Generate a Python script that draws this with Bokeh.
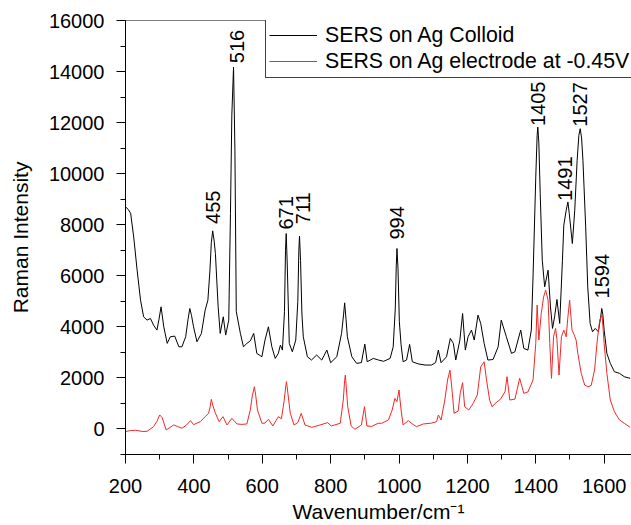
import numpy as np
from bokeh.plotting import figure
from bokeh.models import Range1d, SingleIntervalTicker, Legend, LegendItem, Span, ColumnDataSource
from bokeh.embed import file_html
from bokeh.resources import INLINE
from bokeh.core.properties import value

# ---------------- data ----------------
series_names = ["SERS on Ag Colloid", "SERS on Ag electrode at -0.45V"]

colloid_wn = [200, 208, 215, 224, 234, 244, 253, 263, 273, 282, 292, 298, 304, 312, 322, 331, 344, 356, 365, 376,
              383, 388, 393, 399, 409, 422, 433, 441, 447, 451, 455, 459, 463, 471, 477, 486, 493, 502, 507, 511,
              516, 520, 524, 536, 545, 555, 565, 575, 584, 599, 608, 618, 628, 638, 647, 653, 659, 665, 668, 670,
              673, 679, 688, 698, 704, 707, 709, 712, 716, 720, 732, 744, 759, 774, 789, 800, 818, 832, 838, 841,
              845, 849, 862, 876, 890, 900, 907, 925, 940, 955, 974, 983, 989, 992, 994, 997, 1001, 1006, 1012,
              1022, 1031, 1039, 1056, 1076, 1095, 1107, 1115, 1123, 1139, 1150, 1159, 1166, 1178, 1186, 1194, 1202,
              1212, 1220, 1231, 1239, 1249, 1260, 1275, 1290, 1299, 1305, 1314, 1329, 1339, 1348, 1356, 1365, 1377,
              1387, 1392, 1400, 1404, 1406, 1409, 1413, 1419, 1426, 1436, 1443, 1449, 1455, 1462, 1470, 1478, 1482,
              1489, 1494, 1498, 1507, 1514, 1521, 1526, 1530, 1534, 1538, 1546, 1552, 1559, 1566, 1574, 1583, 1590,
              1593, 1596, 1600, 1608, 1618, 1630, 1645, 1659, 1676]
colloid_int = [8700, 8600, 8450, 7520, 6220, 5046, 4393, 4264, 4330, 4068, 3873, 4300, 4784, 4002, 3352, 3611, 3638,
               3220, 3220, 3611, 4300, 4720, 4450, 4002, 3416, 3743, 4655, 5046, 6220, 7300, 7759, 7400, 6872, 4784,
               3743, 4393, 3677, 4264, 8437, 12300, 14173, 11000, 4600, 3743, 3220, 3352, 3450, 3743, 2960, 2830,
               3482, 4002, 3220, 2764, 2960, 3286, 3090, 4600, 7000, 7656, 6500, 3352, 3024, 3482, 5000, 7000, 7550,
               6600, 4500, 3611, 2830, 2700, 2895, 2700, 3090, 2594, 2830, 3743, 4500, 4941, 4300, 3611, 2830, 2569,
               2600, 3325, 2633, 2764, 2700, 2650, 2764, 3220, 4700, 6400, 7069, 6300, 4200, 3300, 2633, 2700, 3312,
               2633, 2550, 2504, 2504, 2600, 3090, 2594, 2830, 3548, 3352, 2700, 3482, 4524, 3090, 3611, 3873, 3482,
               4460, 4133, 3352, 2700, 2720, 3220, 4264, 4002, 3611, 2960, 3026, 3482, 3873, 3156, 3090, 3873, 5958,
               9870, 11500, 11826, 11200, 9220, 6611, 5567, 6220, 4784, 3939, 4393, 5073, 4134, 6611, 7980, 8567,
               8893, 8437, 7264, 8567, 10523, 11500, 11762, 11400, 10523, 7915, 5567, 4134, 3808, 3939, 3808, 4400,
               4720, 4500, 3873, 2960, 2569, 2243, 2178, 2047, 1982]

electrode_wn = [200, 215, 230, 250, 263, 282, 292, 300, 307, 319, 330, 341, 352, 365, 378, 390, 399, 419, 433, 443,
                448, 451, 456, 463, 474, 485, 497, 511, 526, 540, 555, 565, 571, 577, 581, 586, 599, 608, 618, 631,
                647, 656, 664, 669, 671, 675, 682, 693, 704, 714, 725, 745, 769, 791, 802, 828, 837, 841, 843, 846,
                850, 860, 871, 890, 899, 906, 920, 939, 949, 969, 980, 988, 994, 1000, 1006, 1012, 1027, 1041, 1051,
                1071, 1095, 1110, 1115, 1123, 1134, 1142, 1149, 1156, 1161, 1173, 1179, 1186, 1192, 1204, 1217,
                1229, 1239, 1249, 1256, 1265, 1272, 1284, 1297, 1310, 1316, 1324, 1339, 1353, 1365, 1377, 1392,
                1400, 1404, 1409, 1416, 1423, 1429, 1436, 1441, 1446, 1452, 1458, 1462, 1468, 1475, 1482, 1489,
                1494, 1499, 1506, 1512, 1518, 1523, 1533, 1543, 1552, 1562, 1572, 1580, 1587, 1594, 1600, 1608,
                1618, 1630, 1645, 1659, 1676]
electrode_int = [-100, -60, -50, -100, -90, 90, 300, 548, 450, -39, 60, 156, 100, 26, 150, 326, 170, 287, 483, 613,
                 900, 1160, 900, 613, 287, 483, 156, 417, 196, 180, 196, 743, 1300, 1655, 1300, 743, 222, 230, 378,
                 117, 483, 400, 1100, 1700, 1851, 1400, 613, 156, 250, 613, 156, 65, 156, 247, 117, 222, 1134, 1900,
                 2112, 1600, 874, 117, -13, 156, 874, 117, 100, 222, 222, 352, 743, 1200, 1070, 1526, 743, 156, 326,
                 180, 91, 196, 230, 287, 548, 352, 1134, 1917, 2308, 1396, 613, 700, 1396, 1813, 874, 743, 1004, 1330,
                 2437, 2633, 1917, 1134, 874, 1030, 1170, 1460, 2047, 1134, 1170, 1983, 1396, 1450, 1917, 3352, 4851,
                 3482, 4524, 5176, 5438, 5046, 3352, 1983, 3611, 3939, 3500, 2112, 3611, 3873, 3611, 4393, 5046, 3873,
                 3700, 3482, 2960, 2178, 1721, 1655, 1700, 2308, 3482, 4264, 4460, 3352, 2178, 1134, 678, 352, 222, 65]

peak_wn = [455, 516, 671, 711, 994, 1405, 1491, 1527, 1594]
peak_labels = [str(w) for w in peak_wn]
# label nudges in screen pixels (layout only)
label_dx = [0, 3, -1, 3, 0, 1, -2, 1, 0]
label_dy = [-7, -4, -4, -12, -9, -1, -1, -2, -10]

FONT = "Liberation Sans"

p = figure(width=631, height=525, output_backend="svg", toolbar_location=None,
           x_range=Range1d(200, 1680), y_range=Range1d(-1000, 16000),
           min_border_left=125, min_border_right=0, min_border_top=20, min_border_bottom=71)
p.outline_line_color = None
p.grid.visible = False
p.background_fill_color = "white"
p.border_fill_color = "white"

r1 = p.line(colloid_wn, colloid_int, line_color="black", line_width=1)
r2 = p.line(electrode_wn, electrode_int, line_color="#f02828", line_width=1)

# peak labels, placed just above the local maximum of the colloid spectrum
lab_y = []
for w in peak_wn:
    vals = [v for x, v in zip(colloid_wn, colloid_int) if abs(x - w) <= 8]
    lab_y.append(max(vals))
src = ColumnDataSource(dict(x=peak_wn, y=lab_y, t=peak_labels, dx=label_dx, dy=label_dy))
p.text(x="x", y="y", text="t", source=src, angle=np.pi / 2, text_align="left", text_baseline="middle",
       x_offset="dx", y_offset="dy", text_font=value(FONT), text_font_size="20px", text_color="black")

# top frame line
p.add_layout(Span(location=16000, dimension="width", line_color="black", line_width=1))

legend = Legend(items=[LegendItem(label=series_names[0], renderers=[r1]),
                       LegendItem(label=series_names[1], renderers=[r2])],
                location=(140, 376), orientation="vertical",
                label_text_font=FONT, label_text_font_size="21.3px", label_text_color="black",
                label_height=26, glyph_height=26, glyph_width=48, label_standoff=8,
                spacing=0, padding=3, margin=0,
                border_line_color="black", border_line_width=1, border_line_alpha=0.75,
                background_fill_color="white", background_fill_alpha=1.0)
p.add_layout(legend, "center")

for ax in (p.xaxis, p.yaxis):
    ax.axis_line_color = "black"
    ax.axis_line_width = 1
    ax.major_tick_line_color = "black"
    ax.minor_tick_line_color = "black"
    ax.major_tick_in = 0
    ax.major_tick_out = 9
    ax.minor_tick_in = 0
    ax.minor_tick_out = 5
    ax.major_label_text_font = FONT
    ax.major_label_text_font_size = "20px"
    ax.major_label_text_color = "black"
    ax.axis_label_text_font = FONT
    ax.axis_label_text_font_size = "21px"
    ax.axis_label_text_font_style = "normal"
    ax.axis_label_text_color = "black"

p.xaxis.ticker = SingleIntervalTicker(interval=200, num_minor_ticks=2)
p.yaxis.ticker = SingleIntervalTicker(interval=2000, num_minor_ticks=2)
p.xaxis.major_label_standoff = 15
p.yaxis.major_label_standoff = 12
p.xaxis.axis_label = "Wavenumber/cm\u207b\u00b9"
p.yaxis.axis_label = "Raman Intensity"
p.xaxis.axis_label_standoff = 4
p.yaxis.axis_label_standoff = 14

open("out.html", "w").write(file_html(p, INLINE))
